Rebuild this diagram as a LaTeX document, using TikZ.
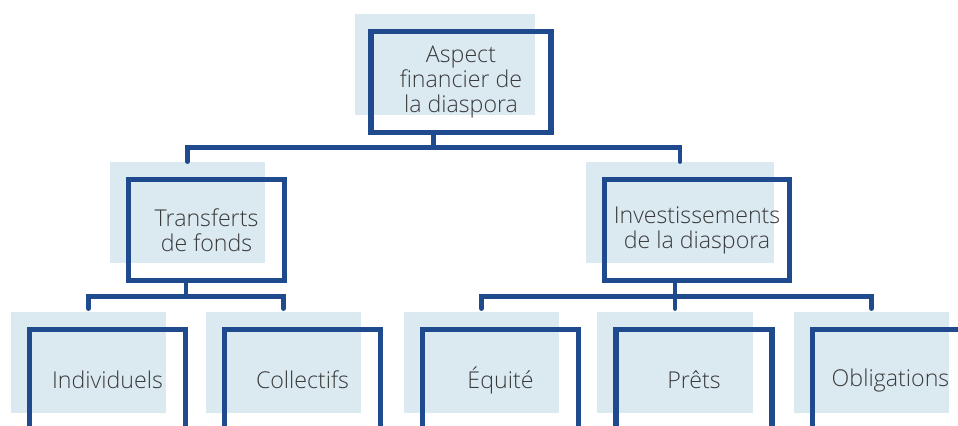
\documentclass[tikz,border=0pt]{standalone}
\usepackage{fontspec}
\setmainfont{Open Sans}[UprightFont={* Light}]
\usepackage{tikz}
\usetikzlibrary{calc}
\definecolor{frameblue}{HTML}{1F4A8E}
\definecolor{paleblue}{HTML}{DBE9F1}
\definecolor{textgray}{HTML}{3A3A3A}
\tikzset{
  backbox/.style={fill=paleblue,minimum width=#1,minimum height=2.02cm,inner sep=0},
  backbox/.default=3.12cm,
  framebox/.style={draw=frameblue,line width=2.9pt,minimum width=#1,minimum height=2.02cm,
    inner sep=0,align=center,text=textgray,font=\fontsize{13.2pt}{14.2pt}\selectfont},
  framebox/.default=3.12cm,
  link/.style={draw=frameblue,line width=2.6pt,line cap=round}
}

\begin{document}
\begin{tikzpicture}[x=0.02cm,y=-0.02cm]
\useasboundingbox (0,0) rectangle (958,426);
\clip (0,0) rectangle (958,426);
% light blue blocks behind
\node[backbox=3.62cm] (top-bg) at (445,64.5) {};
\node[backbox] (trans-bg) at (187.5,212.5) {};
\node[backbox=3.76cm] (invest-bg) at (680,212.5) {};
\node[backbox] (indiv-bg) at (88.5,362.5) {};
\node[backbox] (coll-bg) at (283.5,362.5) {};
\node[backbox] (equi-bg) at (481.5,362.5) {};
\node[backbox] (prets-bg) at (675,362.5) {};
\node[backbox] (oblig-bg) at (871.5,362.5) {};
% frames with the labels
\node[framebox=3.6cm] (top) at (461,82) {Aspect\\financier de\\la diaspora};
\node[framebox] (trans) at (206.5,230) {Transferts\\de fonds};
\node[framebox=3.7cm] (invest) at (697,230) {Investissements\\de la diaspora};
\node[framebox] (indiv) at (107.5,380) {Individuels};
\node[framebox] (coll) at (302.5,380) {Collectifs};
\node[framebox] (equi) at (500.5,380) {Équité};
\node[framebox] (prets) at (694,380) {Prêts};
\node[framebox] (oblig) at (890.5,380) {Obligations};
% connectors
\coordinate (j1) at ($(trans-bg.north)!0.5!(invest-bg.north)+(0,-14)$);
\coordinate (j2) at ($(indiv-bg.north)!0.5!(coll-bg.north)+(0,-15)$);
\coordinate (j3) at ($(prets-bg.north)+(0,-15)$);
\draw[link] (top.south -| j1) -- (j1);
\draw[link] (trans-bg.north) |- (j1) -| (invest-bg.north);
\draw[link] (trans.south -| j2) -- (j2);
\draw[link,shorten >=0.06cm,shorten <=0.06cm] (indiv-bg.north) |- (j2) -| (coll-bg.north);
\draw[link] (invest.south -| j3) -- ([yshift=0.06cm]prets-bg.north);
\draw[link,shorten >=0.06cm,shorten <=0.06cm] (equi-bg.north) |- (j3) -| (oblig-bg.north);
\end{tikzpicture}
\end{document}
